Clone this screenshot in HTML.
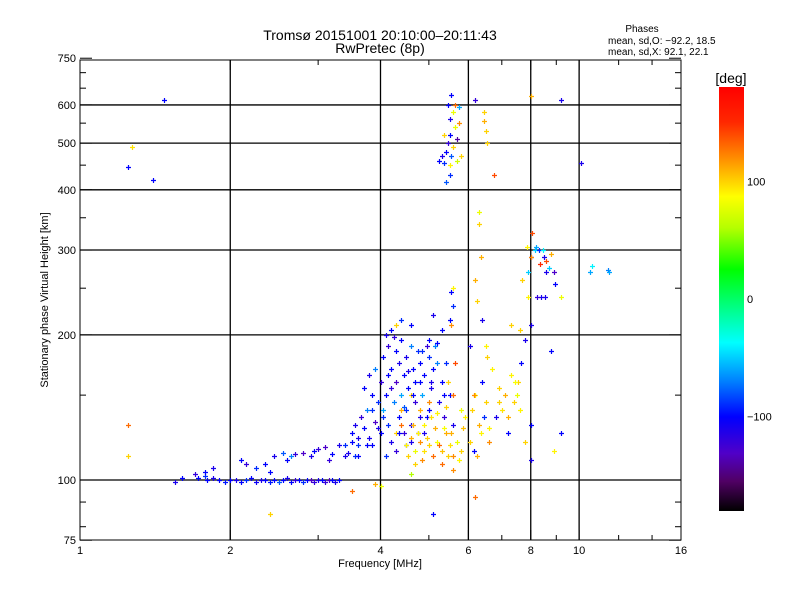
<!DOCTYPE html>
<html><head><meta charset="utf-8"><style>
body{margin:0;background:#fff;}
svg{display:block;font-family:"Liberation Sans",sans-serif;}
</style></head><body>
<svg id="chart" width="800" height="600" viewBox="0 0 800 600">
<rect x="0" y="0" width="800" height="600" fill="#fff"/>
<defs><linearGradient id="cb" x1="0" y1="0" x2="0" y2="1">
<stop offset="0" stop-color="rgb(255,0,0)"/><stop offset="0.083" stop-color="rgb(255,40,0)"/>
<stop offset="0.167" stop-color="rgb(255,140,0)"/><stop offset="0.258" stop-color="rgb(255,255,0)"/>
<stop offset="0.333" stop-color="rgb(180,255,0)"/><stop offset="0.43" stop-color="rgb(0,255,0)"/>
<stop offset="0.603" stop-color="rgb(0,255,255)"/><stop offset="0.694" stop-color="rgb(0,128,255)"/>
<stop offset="0.778" stop-color="rgb(0,0,255)"/><stop offset="0.864" stop-color="rgb(80,0,200)"/>
<stop offset="0.93" stop-color="rgb(80,0,100)"/><stop offset="1" stop-color="rgb(0,0,0)"/>
</linearGradient></defs>
<text x="380" y="40" font-size="14" text-anchor="middle">Tromsø 20151001 20:10:00–20:11:43</text>
<text x="380" y="53" font-size="14" text-anchor="middle">RwPretec (8p)</text>
<text x="642" y="32" font-size="10" text-anchor="middle">Phases</text>
<text x="608" y="44" font-size="10">mean, sd,O: −92.2, 18.5</text>
<text x="608" y="55" font-size="10">mean, sd,X:  92.1, 22.1</text>
<g id="grid"></g>
<g id="marks"></g>
<rect x="80" y="60" width="601" height="480" fill="none" stroke="#000" stroke-width="1"/>
<g id="axes"></g>
<text x="380" y="567" font-size="11" text-anchor="middle">Frequency [MHz]</text>
<text x="0" y="0" font-size="11" text-anchor="middle" transform="translate(48,300) rotate(-90)">Stationary phase Virtual Height [km]</text>
<rect x="719" y="87" width="25" height="424" fill="url(#cb)"/>
<text x="731" y="83" font-size="14" text-anchor="middle">[deg]</text>
<g id="cbticks"></g>
</svg>
<script>
const xTicks=[1,2,4,6,8,10,16];
const xGrid=[2,4,6,8,10];
const xMinor=[3,5,7,9,12,14];
const yTicks=[75,100,200,300,400,500,600,750];
const yGrid=[100,200,300,400,500,600];
const yMinor=[80,90,150,250,350,450,550,650,700];
const cbTicks=[100,0,-100];
const freqs=[1.55,1.6,1.7,1.72,1.78,1.8,1.85,1.9,1.95,2.0,2.05,2.1,2.15,2.2,2.25,2.3,2.35,2.4,2.45,2.5,2.55,2.6,2.65,2.7,2.75,2.8,2.85,2.9,2.95,3.0,3.05,3.1,3.15,3.2,3.25,3.3,
1.78,1.85,2.1,2.15,2.25,2.4,2.45,2.55,2.6,2.7,2.8,2.9,2.95,3.0,3.1,3.2,3.3,3.4,3.5,3.6,2.65,3.15,2.35,3.45,3.55,
3.5,3.55,3.6,3.65,3.7,3.75,3.8,3.85,3.9,3.95,3.7,3.8,3.9,4.0,4.0,4.05,4.05,4.1,4.1,4.15,4.15,4.2,4.2,4.25,4.3,4.3,4.35,4.35,4.4,4.4,4.45,4.45,4.5,4.5,4.55,4.6,4.6,4.65,4.7,4.7,4.75,4.8,4.8,4.85,4.9,4.95,5.0,5.0,5.05,5.1,5.15,5.2,5.25,5.3,5.35,5.4,5.5,5.6,3.6,3.4,3.85,4.1,4.3,4.5,4.9,4.2,4.4,4.6,5.3,5.1,5.55,5.6,5.5,
4.3,4.5,4.6,4.7,4.8,4.9,5.0,5.1,5.2,5.3,5.4,5.5,5.6,5.7,5.8,4.8,5.0,5.2,5.4,5.6,5.8,4.6,4.4,5.3,5.6,5.9,5.45,5.65,4.9,5.15,4.3,5.55,5.6,3.5,3.9,4.0,4.6,
6.1,6.2,6.3,6.4,6.5,6.6,6.7,6.8,6.9,7.0,7.1,7.2,7.3,7.4,7.5,7.6,7.55,7.65,6.15,6.25,6.35,6.45,6.55,6.05,6.2,6.25,6.4,6.5,7.3,7.6,6.2,6.3,6.3,6.35,7.8,7.9,8.0,7.8,8.0,8.0,8.9,9.2,8.8,7.7,
5.25,5.3,5.35,5.4,5.45,5.5,5.55,5.5,5.6,5.65,5.7,5.75,5.5,5.45,5.55,5.4,5.35,5.6,5.7,5.8,5.65,5.5,6.45,6.5,6.45,6.55,6.75,6.2,5.75,
7.85,8.0,8.05,8.15,8.2,8.3,8.35,8.5,8.6,8.7,8.8,8.4,8.55,8.25,8.9,9.2,7.9,8.95,10.6,11.4,11.5,10.5,8.6,8.45,8.0,
1.27,1.25,1.4,1.47,1.25,1.25,2.4,5.1,9.2,8.0,10.1,
3.75,3.95,4.05,4.2,4.35,4.45,4.55,4.65,4.75,4.85,4.95,5.05,5.2,5.35,4.25,4.15,3.85,4.6,4.8,5.0,
4.55,4.65,4.75,4.85,4.95,5.05,5.25,5.35,5.45,5.55,5.75,5.85,6.05,6.15,6.6,6.9,7.2,7.45,4.4,4.7];
const heights=[99,101,103,101,102,100,101,100,99,100,100,99,100,101,99,100,100,99,100,99,100,101,99,100,100,99,100,100,99,100,100,99,100,100,99,100,
104,106,110,108,106,104,112,114,110,113,114,112,115,116,117,113,118,118,120,122,112,110,108,114,112,
125,130,118,135,128,140,122,150,132,145,155,165,170,125,160,180,140,200,150,130,190,170,120,145,185,160,135,175,150,195,125,165,140,180,155,190,130,170,145,160,185,135,175,150,165,190,140,180,155,170,190,192,145,160,135,175,150,130,112,112,118,112,115,118,125,205,215,210,205,220,245,230,215,
125,118,122,115,120,115,118,112,120,115,125,118,112,120,115,140,145,138,142,150,140,150,140,108,105,135,160,175,130,128,210,210,250,95,98,97,103,
140,150,130,160,145,120,170,135,155,140,150,125,165,145,150,140,160,175,115,112,125,135,180,190,260,235,215,190,210,205,92,360,340,290,195,240,210,120,130,110,115,125,185,260,
460,470,455,480,500,520,470,450,490,540,460,550,560,600,630,415,520,580,510,470,600,430,555,530,580,500,430,615,595,
305,290,325,300,305,300,280,290,285,275,295,240,240,240,270,240,270,255,278,273,270,270,270,300,290,
490,445,420,615,130,112,85,85,615,625,455,
118,128,135,155,125,142,168,150,125,185,135,160,175,150,198,165,140,120,160,195,
112,130,125,110,122,135,118,128,112,125,110,128,120,150,128,145,135,160,130,108];
const phases=[-110,-100,-120,-100,-90,-100,-110,-100,-95,-100,-110,-100,-90,-100,-105,-110,-100,-95,-100,-80,-100,-110,-100,-120,-100,-90,-100,-130,-120,-110,-100,-120,-130,-100,-110,-100,
-100,-110,-100,-120,-90,-100,-110,-80,-100,-120,-130,-110,-100,-120,-130,-100,-110,-90,-100,-110,-70,-120,-100,-110,-90,
-100,-110,-90,-120,-100,-70,-110,-100,-130,-90,-100,-110,-70,-100,-120,-100,-60,-110,-100,-90,-120,-100,-110,-70,-100,-130,-100,-110,-60,-100,-120,-100,-90,-110,-100,-70,-110,-100,-120,-100,-90,-110,-100,-60,-100,-120,-100,-90,-110,-100,-70,-100,-110,-100,-120,-90,-100,-110,-100,-110,-100,-90,-120,-100,-110,-100,-90,-100,-100,-110,-100,-90,-100,
100,90,110,80,120,95,100,130,85,105,110,95,120,80,100,110,120,90,100,130,80,100,110,130,120,90,100,140,90,110,100,120,90,130,110,80,60,
100,90,110,-100,100,120,90,-110,100,95,110,-100,90,100,80,90,100,-100,-100,110,90,-90,100,-110,110,100,-110,90,100,100,130,80,100,110,-110,90,-110,100,-100,-110,90,-100,-100,100,
-100,-110,-90,-100,-120,-100,-80,90,100,80,70,120,-110,-100,-100,-80,100,80,-140,100,130,-90,110,100,100,100,140,-120,-60,
90,-110,140,-50,-60,-90,150,-110,140,-50,110,-110,-110,-120,-130,80,-50,-100,-40,-70,-60,-60,-110,-40,120,
95,-100,-100,-100,130,100,100,-100,-110,110,-110,
-100,-110,-90,-120,-100,-80,-110,-100,-130,-90,-100,-110,-70,-100,-120,-100,-90,-110,-100,-100,
100,110,90,120,100,95,130,85,100,110,90,105,100,120,90,100,110,85,130,100];

const X0=80,X1=681,Y100=480,PXD=482;
function xs(f){return X0+Math.log2(f)*(X1-X0)/4;}
function ys(h){return Y100-Math.log10(h/100)*PXD;}
const stops=[[180,255,0,0],[150,255,40,0],[120,255,140,0],[87,255,255,0],[60,180,255,0],[25,0,255,0],[-37,0,255,255],[-70,0,128,255],[-100,0,0,255],[-131,80,0,200],[-155,80,0,100],[-180,0,0,0]];
function col(p){
  for(let i=0;i<stops.length-1;i++){const a=stops[i],b=stops[i+1];
    if(p<=a[0]&&p>=b[0]){const t=(a[0]-p)/(a[0]-b[0]);
      return 'rgb('+[1,2,3].map(k=>Math.round(a[k]+(b[k]-a[k])*t)).join(',')+')';}}
  return p>0?'rgb(255,0,0)':'rgb(0,0,0)';
}
const NS='http://www.w3.org/2000/svg';
function mk(tag,attrs,parent){const e=document.createElementNS(NS,tag);for(const k in attrs)e.setAttribute(k,attrs[k]);parent.appendChild(e);return e;}
const grid=document.getElementById('grid'),axes=document.getElementById('axes'),marks=document.getElementById('marks'),cbt=document.getElementById('cbticks');
xGrid.forEach(v=>{const l=mk('line',{x1:xs(v),x2:xs(v),y1:60,y2:540,stroke:'#000','stroke-width':1.3},grid);

});
yGrid.forEach(v=>{const l=mk('line',{x1:80,x2:681,y1:ys(v),y2:ys(v),stroke:'#000','stroke-width':1.3},grid);

});
xTicks.forEach(v=>{const t=mk('text',{x:xs(v),y:554,'font-size':11,'text-anchor':'middle'},axes);t.textContent=v;


mk('line',{x1:xs(v),x2:xs(v),y1:540,y2:530,stroke:'#000'},axes);mk('line',{x1:xs(v),x2:xs(v),y1:60,y2:70,stroke:'#000'},axes);});
xMinor.forEach(v=>{mk('line',{x1:xs(v),x2:xs(v),y1:540,y2:535,stroke:'#000'},axes);mk('line',{x1:xs(v),x2:xs(v),y1:60,y2:65,stroke:'#000'},axes);});
yTicks.forEach(v=>{const t=mk('text',{x:76,y:ys(v)+4,'font-size':11,'text-anchor':'end'},axes);t.textContent=v;


mk('line',{x1:80,x2:92,y1:ys(v),y2:ys(v),stroke:'#000'},axes);mk('line',{x1:669,x2:681,y1:ys(v),y2:ys(v),stroke:'#000'},axes);});
yMinor.forEach(v=>{mk('line',{x1:80,x2:86,y1:ys(v),y2:ys(v),stroke:'#000'},axes);mk('line',{x1:675,x2:681,y1:ys(v),y2:ys(v),stroke:'#000'},axes);});
cbTicks.forEach(v=>{const y=299-v*1.177;const t=mk('text',{x:747,y:y+4,'font-size':11},cbt);t.textContent=(v<0?'−'+(-v):v);

});
const n=Math.min(freqs.length,heights.length,phases.length);
for(let i=0;i<n;i++){
  const x=Math.round(xs(freqs[i])),y=Math.round(ys(heights[i])),c=col(phases[i]);
  const g=mk('path',{d:`M${x-2} ${y+0.5}h5M${x+0.5} ${y-2}v5`,stroke:c,'stroke-width':1.2,fill:'none'},marks);
  
  
}
</script>
</body></html>
